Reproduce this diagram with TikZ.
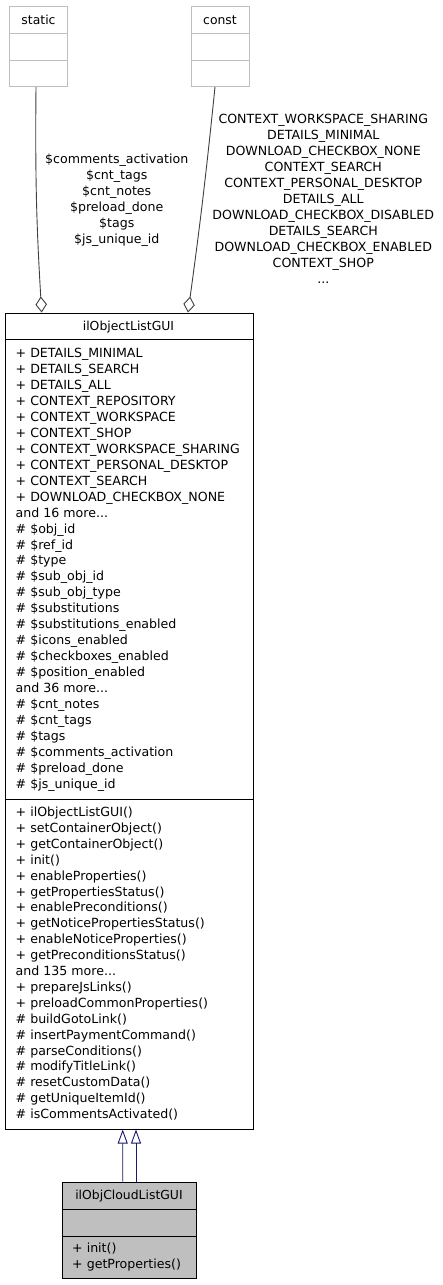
\documentclass[tikz,border=0pt]{standalone}
\usepackage{fontspec}
\setmainfont{DejaVu Sans}
\usetikzlibrary{arrows.meta}
\definecolor{edgegray}{HTML}{404040}
\definecolor{boxgray}{HTML}{BFBFBF}
\definecolor{navyedge}{HTML}{191970}
\newcommand{\mydots}{...}
\begin{document}
\begin{tikzpicture}[x=1pt,y=-1pt,
  txt/.style={font=\fontsize{12.6}{16}\selectfont, inner sep=0pt},
  ttxt/.style={font=\fontsize{12.4}{16}\selectfont, inner sep=0pt, anchor=base},
  ltxt/.style={txt, anchor=base west},
  ctxt/.style={txt, anchor=base},
  classbox/.style={draw=black, line width=1pt, inner sep=0pt, fill=white},
  extbox/.style={draw=boxgray, line width=1pt, inner sep=0pt, fill=white},
  aggr/.style={draw=edgegray, line width=0.9pt, -{Diamond[open, length=16pt, width=11.5pt, line width=0.9pt]}},
  inh/.style={draw=navyedge, line width=0.9pt, -{Triangle[open, length=14pt, width=10pt, line width=0.9pt]}}]
\useasboundingbox (0,0) rectangle (443,1285);
\fill[white] (0,0) rectangle (443,1285);

% external boxes
\node[extbox, minimum width=58pt, minimum height=80.5pt] (static) at (38.5,46.25) {};
\draw[boxgray, line width=1pt] (9.5,33.3) -- (67.5,33.3) (9.5,60) -- (67.5,60);
\node[ttxt] (statict) at (38.5,24.5) {static};

\node[extbox, minimum width=58pt, minimum height=80.5pt] (const) at (220,46.25) {};
\draw[boxgray, line width=1pt] (191,33.3) -- (249,33.3) (191,60) -- (249,60);
\node[ttxt] (constt) at (220,24.5) {const};

% main class
\node[classbox, minimum width=248pt, minimum height=816pt] (main) at (129,721) {};
\draw[line width=1pt] (5,339) -- (253,339) (5,799) -- (253,799);
\node[ttxt] (maint) at (128.5,330.5) {ilObjectListGUI};

\foreach \t [count=\i from 0] in {{+ DETAILS\_MINIMAL}, {+ DETAILS\_SEARCH}, {+ DETAILS\_ALL}, {+ CONTEXT\_REPOSITORY}, {+ CONTEXT\_WORKSPACE}, {+ CONTEXT\_SHOP}, {+ CONTEXT\_WORKSPACE\_SHARING}, {+ CONTEXT\_PERSONAL\_DESKTOP}, {+ CONTEXT\_SEARCH}, {+ DOWNLOAD\_CHECKBOX\_NONE}, {and 16 more\mydots}, {\# \$obj\_id}, {\# \$ref\_id}, {\# \$type}, {\# \$sub\_obj\_id}, {\# \$sub\_obj\_type}, {\# \$substitutions}, {\# \$substitutions\_enabled}, {\# \$icons\_enabled}, {\# \$checkboxes\_enabled}, {\# \$position\_enabled}, {and 36 more\mydots}, {\# \$cnt\_notes}, {\# \$cnt\_tags}, {\# \$tags}, {\# \$comments\_activation}, {\# \$preload\_done}, {\# \$js\_unique\_id}}
  \node[ltxt] (attr\i) at (15.5,357.5+15.96*\i) {\t};

\foreach \t [count=\i from 0] in {{+ ilObjectListGUI()}, {+ setContainerObject()}, {+ getContainerObject()}, {+ init()}, {+ enableProperties()}, {+ getPropertiesStatus()}, {+ enablePreconditions()}, {+ getNoticePropertiesStatus()}, {+ enableNoticeProperties()}, {+ getPreconditionsStatus()}, {and 135 more\mydots}, {+ prepareJsLinks()}, {+ preloadCommonProperties()}, {\# buildGotoLink()}, {\# insertPaymentCommand()}, {\# parseConditions()}, {\# modifyTitleLink()}, {\# resetCustomData()}, {\# getUniqueItemId()}, {\# isCommentsActivated()}}
  \node[ltxt] (meth\i) at (15.5,816.5+15.9*\i) {\t};

% child class
\node[classbox, fill=boxgray, minimum width=133.3pt, minimum height=96pt] (child) at (129.35,1230) {};
\draw[line width=1pt] (62.7,1209) -- (196,1209) (62.7,1236) -- (196,1236);
\node[ttxt] (childt) at (129,1199.5) {ilObjCloudListGUI};
\node[ltxt] (cm0) at (72,1252.5) {+ init()};
\node[ltxt] (cm1) at (72,1268.5) {+ getProperties()};

% edge labels
\foreach \t [count=\i from 0] in {{\$comments\_activation}, {\$cnt\_tags}, {\$cnt\_notes}, {\$preload\_done}, {\$tags}, {\$js\_unique\_id}}
  \node[ctxt] (sl\i) at (116.7,163.8+16*\i) {\t};
\foreach \t [count=\i from 0] in {{CONTEXT\_WORKSPACE\_SHARING}, {DETAILS\_MINIMAL}, {DOWNLOAD\_CHECKBOX\_NONE}, {CONTEXT\_SEARCH}, {CONTEXT\_PERSONAL\_DESKTOP}, {DETAILS\_ALL}, {DOWNLOAD\_CHECKBOX\_DISABLED}, {DETAILS\_SEARCH}, {DOWNLOAD\_CHECKBOX\_ENABLED}, {CONTEXT\_SHOP}, {\mydots}}
  \node[ctxt] (cl\i) at (323.3,123.8+16*\i) {\t};

% connectors
\draw[aggr] ([xshift=-2.5pt]static.south) to[bend right=2] ([xshift=-87.3pt]main.north);
\draw[aggr] ([xshift=-5pt]const.south) to[bend left=1] ([xshift=59pt]main.north);
\draw[inh] ([xshift=-6.65pt]child.north) -- ([xshift=-6.3pt]main.south);
\draw[inh] ([xshift=6.65pt]child.north) -- ([xshift=7pt]main.south);
\end{tikzpicture}
\end{document}
